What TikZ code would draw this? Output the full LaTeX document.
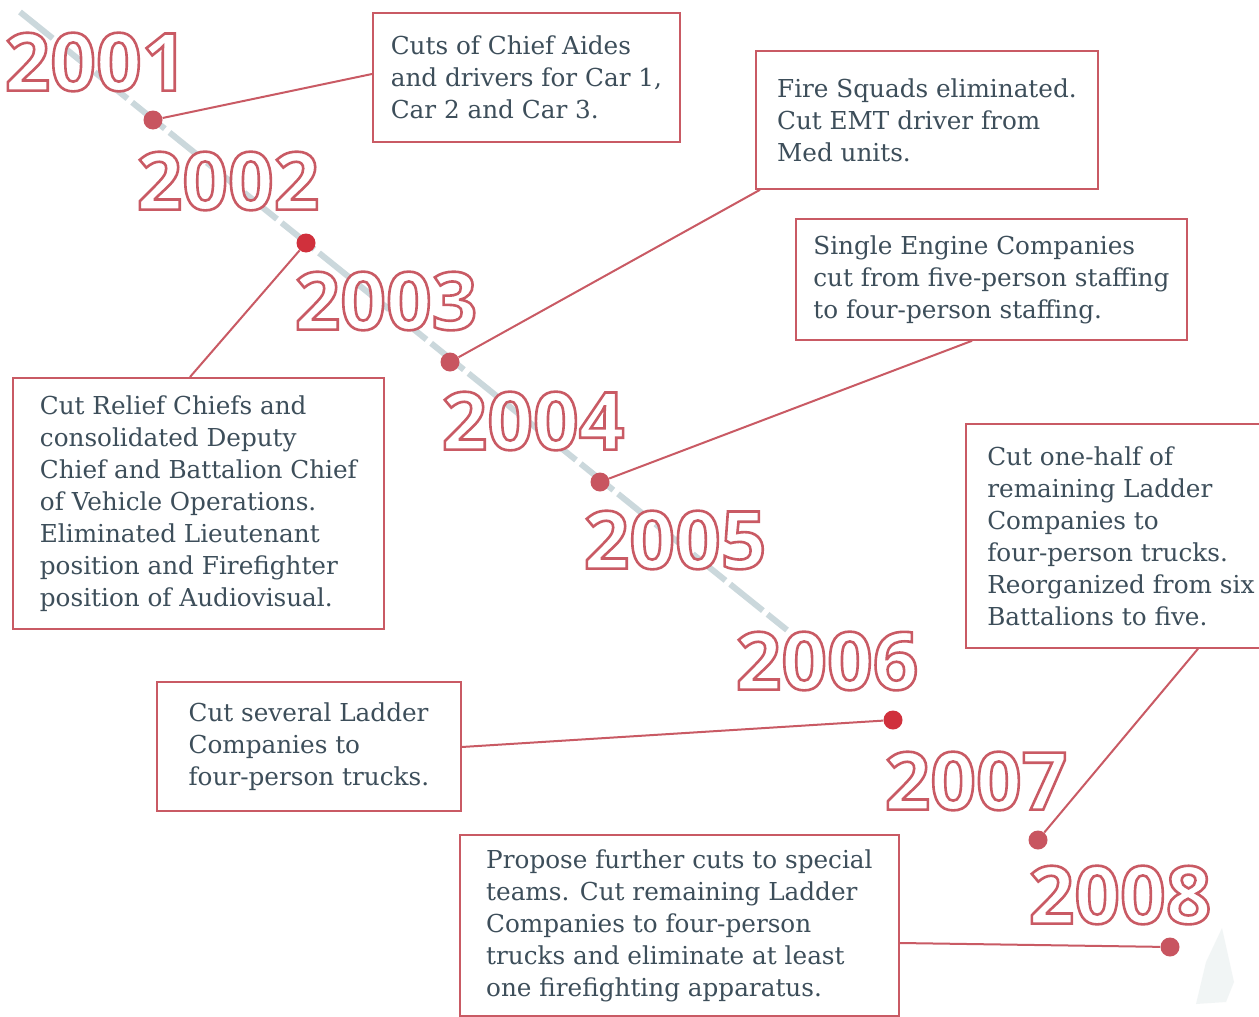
\documentclass[tikz,border=0pt]{standalone}
\usepackage{fontspec}
\setmainfont{DejaVu Serif}
\newfontfamily\yearfont{Open Sans}
\usetikzlibrary{calc}

\definecolor{linered}{HTML}{C95A64}
\definecolor{dotred}{HTML}{C85560}
\definecolor{deepdot}{HTML}{D0303C}
\definecolor{slate}{HTML}{3D4E5A}
\definecolor{track}{HTML}{CBD8DC}

% white letters with a red outline (text render mode 2)
\newcommand{\outlined}[1]{\special{color push rgb 1 1 1}%
  \special{pdf:literal direct 0.788 0.353 0.392 RG 2 Tr 2.6 w}#1%
  \special{pdf:literal direct 0 Tr 0.4 w}\special{color pop}}

\begin{document}
\begin{tikzpicture}[x=1pt,y=-1pt,semithick]
\tikzstyle{tbox}=[draw=linered,line width=1.8pt,text=slate,align=left,anchor=north west,inner sep=0pt,font=\fontsize{24.7}{32}\selectfont]
\tikzstyle{dot}=[circle,fill=dotred,minimum size=19pt,inner sep=0pt]
\tikzstyle{year}=[inner sep=0pt,font=\yearfont\bfseries\fontsize{80}{80}\selectfont]
\tikzstyle{link}=[draw=linered,line width=2pt]
\useasboundingbox (0,0) rectangle (1259,1017);
\fill[white] (0,0) rectangle (1259,1017);

% time track
\draw[track,line width=6pt,dash pattern=on 42pt off 6pt] (20,12) -- (787,630);
\fill[track!50,opacity=.5] (1222,928) -- (1234,982) -- (1226,1002) -- (1196,1004) -- (1206,962) -- cycle;

% years
\foreach \yr/\xx/\yy in {2001/96/62,2002/228/181,2003/386/301,2004/533/421,
                         2005/675/540,2006/827/661,2007/976/781,2008/1120/895}
  \node[year] (y\yr) at (\xx,\yy) {\outlined{\yr}};

% boxes
\node[tbox,minimum width=307pt,minimum height=129pt] (aides) at (372,12)
  {Cuts of Chief Aides\\and drivers for Car 1,\\Car 2 and Car 3.};
\node[tbox,minimum width=342pt,minimum height=138pt] (squads) at (755,50)
  {Fire Squads eliminated.\\Cut EMT driver from\\Med units.};
\node[tbox,minimum width=391pt,minimum height=121pt] (engine) at (795,218)
  {Single Engine Companies\\cut from five-person staffing\\to four-person staffing.};
\node[tbox,minimum width=371pt,minimum height=251pt] (relief) at (12,377)
  {Cut Relief Chiefs and\\consolidated Deputy\\Chief and Battalion Chief\\of Vehicle Operations.\\Eliminated Lieutenant\\position and Firefighter\\position of Audiovisual.};
\node[tbox,minimum width=310pt,minimum height=224pt] (half) at (965,423)
  {Cut one-half of\\remaining Ladder\\Companies to\\four-person trucks.\\Reorganized from six\\Battalions to five.};
\node[tbox,minimum width=304pt,minimum height=129pt] (several) at (156,681)
  {Cut several Ladder\\Companies to\\four-person trucks.};
\node[tbox,minimum width=439pt,minimum height=181pt] (propose) at (459,834)
  {Propose further cuts to special\\teams. Cut remaining Ladder\\Companies to four-person\\trucks and eliminate at least\\one firefighting apparatus.};

% dots
\node[dot] (d2001) at (153,120) {};
\node[dot,fill=deepdot] (d2002) at (306,243) {};
\node[dot] (d2003) at (450,362) {};
\node[dot] (d2004) at (600,482) {};
\node[dot,fill=deepdot] (d2006) at (893,720) {};
\node[dot] (d2007) at (1038,840) {};
\node[dot] (d2008) at (1170,947) {};

% links
\draw[link] (d2001) -- ($(aides.north west)+(0,62)$);
\draw[link] (d2002) -- ($(relief.north west)+(178,0)$);
\draw[link] (d2003) -- ($(squads.south west)+(5,0)$);
\draw[link] (d2004) -- ($(engine.south west)+(177,0)$);
\draw[link] (d2006) -- ($(several.north east)+(0,66)$);
\draw[link] (d2007) -- ($(half.south west)+(233,0)$);
\draw[link] (d2008) -- ($(propose.north east)+(0,109)$);
\end{tikzpicture}
\end{document}
